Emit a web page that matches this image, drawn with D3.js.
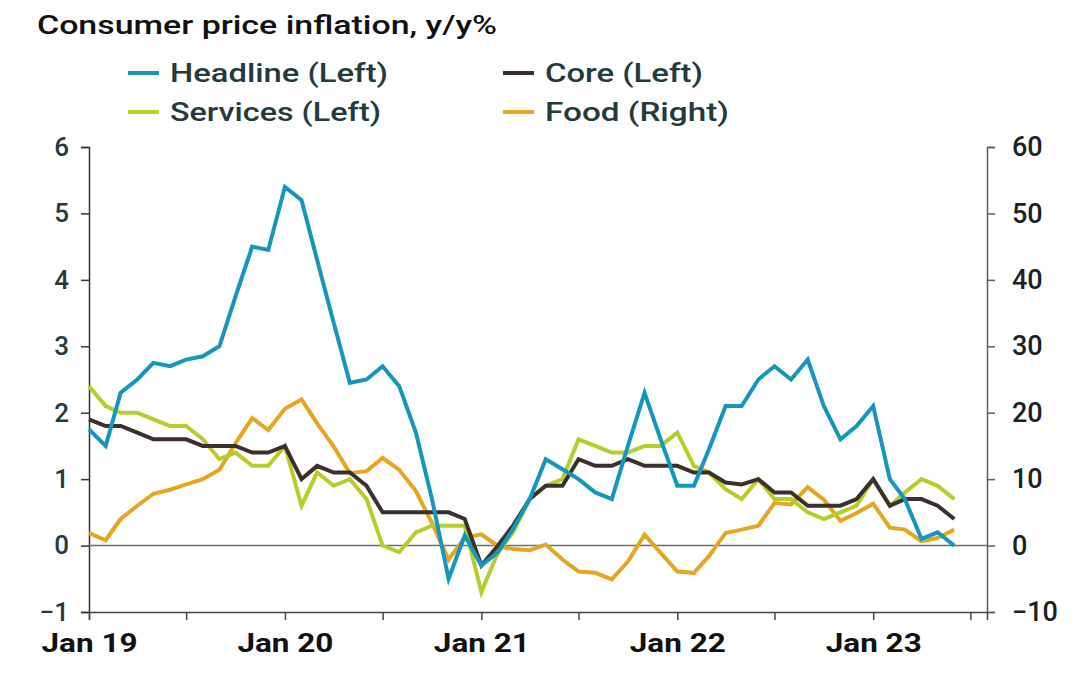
<!DOCTYPE html>
<html>
<head>
<meta charset="utf-8">
<script src="https://cdn.jsdelivr.net/npm/d3@7"></script>
<style>
  html, body { margin: 0; padding: 0; background: #ffffff; }
  svg { display: block; font-family: Roboto, "Liberation Sans", sans-serif; }
</style>
</head>
<body>
<svg id="chart" width="1079" height="684"></svg>
<script>
// ---- data (monthly, Jan 2019 – Jun 2023) ----
const startYear = 2019;
const headline = [1.75,1.5,2.3,2.5,2.75,2.7,2.8,2.85,3.0,3.75,4.5,4.45,5.4,
  5.2,4.3,3.35,2.45,2.5,2.7,2.4,1.7,0.7,-0.5,0.15,-0.3,-0.1,
  0.25,0.7,1.3,1.15,1.0,0.8,0.7,1.5,2.3,1.6,0.9,0.9,1.45,
  2.1,2.1,2.5,2.7,2.5,2.8,2.1,1.6,1.8,2.1,1.0,0.7,0.1,0.2,0.0];
const core = [1.9,1.8,1.8,1.7,1.6,1.6,1.6,1.5,1.5,1.5,1.4,1.4,1.5,
  1.0,1.2,1.1,1.1,0.9,0.5,0.5,0.5,0.5,0.5,0.4,-0.3,0.0,
  0.3,0.7,0.9,0.9,1.3,1.2,1.2,1.3,1.2,1.2,1.2,1.1,1.1,
  0.95,0.92,1.0,0.8,0.8,0.6,0.6,0.6,0.7,1.0,0.6,0.7,0.7,0.6,0.4];
const services = [2.4,2.1,2.0,2.0,1.9,1.8,1.8,1.6,1.3,1.4,1.2,1.2,1.5,
  0.6,1.1,0.9,1.0,0.7,0.0,-0.1,0.2,0.3,0.3,0.3,-0.7,-0.1,
  0.2,0.7,0.9,1.0,1.6,1.5,1.4,1.4,1.5,1.5,1.7,1.2,1.1,
  0.85,0.7,1.0,0.7,0.7,0.5,0.4,0.5,0.6,1.0,0.6,0.8,1.0,0.9,0.7];
const food = [1.9,0.8,4.0,6.0,7.8,8.4,9.2,10.0,11.4,15.4,19.2,17.4,20.6,
  22.0,18.4,14.9,10.9,11.2,13.2,11.4,8.2,3.4,-2.1,1.2,1.7,-0.1,
  -0.5,-0.7,0.15,-2.1,-3.9,-4.1,-5.1,-2.4,1.65,-1.1,-3.9,-4.1,-1.6,
  1.9,2.4,3.0,6.4,6.2,8.8,6.9,3.7,4.9,6.3,2.7,2.4,0.65,1.15,2.4];
const leftTicks = [-1,0,1,2,3,4,5,6];
const rightTicks = [-10,0,10,20,30,40,50,60];
const xTickLabels = ["Jan 19","Jan 20","Jan 21","Jan 22","Jan 23"];
const seriesNames = ["Headline (Left)","Core (Left)","Services (Left)","Food (Right)"];
const titleText = "Consumer price inflation, y/y%";

// ---- setup ----
const svg = d3.select("#chart");
const colors = {
  headline: "#1796bd",
  core: "#3b302c",
  services: "#b6cd2b",
  food: "#e6a623"
};
const dates = headline.map((_, i) => new Date(startYear, i, 1));

const x = d3.scaleTime()
  .domain([new Date(2019, 0, 1), new Date(2023, 7, 1)])
  .range([89, 987]);
const yL = d3.scaleLinear().domain([-1, 6]).range([612, 147]);
const yR = d3.scaleLinear().domain([-10, 60]).range([612, 147]);

// title
svg.append("text")
  .attr("x", 37).attr("y", 34)
  .attr("font-size", 25).attr("font-weight", 500)
  .attr("fill", "#111")
  .attr("textLength", 460).attr("lengthAdjust", "spacingAndGlyphs")
  .text(titleText);

// legend
const legendItems = [
  {name: seriesNames[0], color: colors.headline, x: 128, y: 73, w: 218},
  {name: seriesNames[1], color: colors.core, x: 503, y: 73, w: 158},
  {name: seriesNames[2], color: colors.services, x: 128, y: 112, w: 211},
  {name: seriesNames[3], color: colors.food, x: 503, y: 112, w: 184}
];
const lg = svg.append("g");
legendItems.forEach(d => {
  lg.append("line")
    .attr("x1", d.x).attr("x2", d.x + 31)
    .attr("y1", d.y).attr("y2", d.y)
    .attr("stroke", d.color).attr("stroke-width", 4);
  lg.append("text")
    .attr("x", d.x + 42).attr("y", d.y + 9)
    .attr("font-size", 26).attr("font-weight", 500)
    .attr("fill", "#253a3c")
    .attr("textLength", d.w).attr("lengthAdjust", "spacingAndGlyphs")
    .text(d.name);
});

// left axis
const gL = svg.append("g").attr("transform", "translate(89,0)")
  .call(d3.axisLeft(yL).tickValues(leftTicks).tickSize(8).tickPadding(12).tickFormat(d3.format("d")));
gL.select(".domain").attr("stroke", "#333").attr("stroke-width", 1.5);
gL.selectAll(".tick line").attr("stroke", "#333").attr("stroke-width", 1.5);
gL.selectAll(".tick text").attr("font-size", 26).attr("font-weight", 500)
  .attr("fill", "#253a3c").attr("font-family", "Roboto, sans-serif");

// right axis
const gR = svg.append("g").attr("transform", "translate(987,0)")
  .call(d3.axisRight(yR).tickValues(rightTicks).tickSize(8).tickPadding(17).tickFormat(d3.format("d")));
gR.select(".domain").attr("stroke", "#4c6466").attr("stroke-width", 1.5);
gR.selectAll(".tick line").attr("stroke", "#4c6466").attr("stroke-width", 1.5);
gR.selectAll(".tick text").attr("font-size", 27).attr("font-weight", 500)
  .attr("fill", "#1a2224").attr("font-family", "Roboto, sans-serif");

// bottom axis
const xTicks = d3.timeMonth.every(6).range(new Date(2019, 0, 1), new Date(2023, 7, 1));
const gX = svg.append("g").attr("transform", "translate(0,612)")
  .call(d3.axisBottom(x).tickValues(xTicks).tickSize(8).tickPadding(14)
    .tickFormat(d => d.getMonth() === 0 ? xTickLabels[d.getFullYear() - startYear] : ""));
gX.select(".domain").attr("stroke", "#444").attr("stroke-width", 1.5);
gX.selectAll(".tick line").attr("stroke", "#444").attr("stroke-width", 1.5);
gX.selectAll(".tick text").attr("font-size", 26).attr("font-weight", 700)
  .attr("fill", "#111").attr("font-family", "Roboto, sans-serif")
  .filter(function() { return this.textContent !== ""; })
  .attr("textLength", 96).attr("lengthAdjust", "spacingAndGlyphs");

// zero line
svg.append("line")
  .attr("x1", x.range()[0]).attr("x2", x.range()[1])
  .attr("y1", yL(0)).attr("y2", yL(0))
  .attr("stroke", "#6e6e6e").attr("stroke-width", 1.5);

// lines
const lineL = d3.line().x((d, i) => x(dates[i])).y(d => yL(d));
const lineR = d3.line().x((d, i) => x(dates[i])).y(d => yR(d));
const series = [
  {data: food, color: colors.food, gen: lineR},
  {data: services, color: colors.services, gen: lineL},
  {data: core, color: colors.core, gen: lineL},
  {data: headline, color: colors.headline, gen: lineL}
];
series.forEach(s => {
  svg.append("path").datum(s.data)
    .attr("fill", "none").attr("stroke", s.color)
    .attr("stroke-width", 4).attr("stroke-linejoin", "miter")
    .attr("d", s.gen);
});
</script>
</body>
</html>
